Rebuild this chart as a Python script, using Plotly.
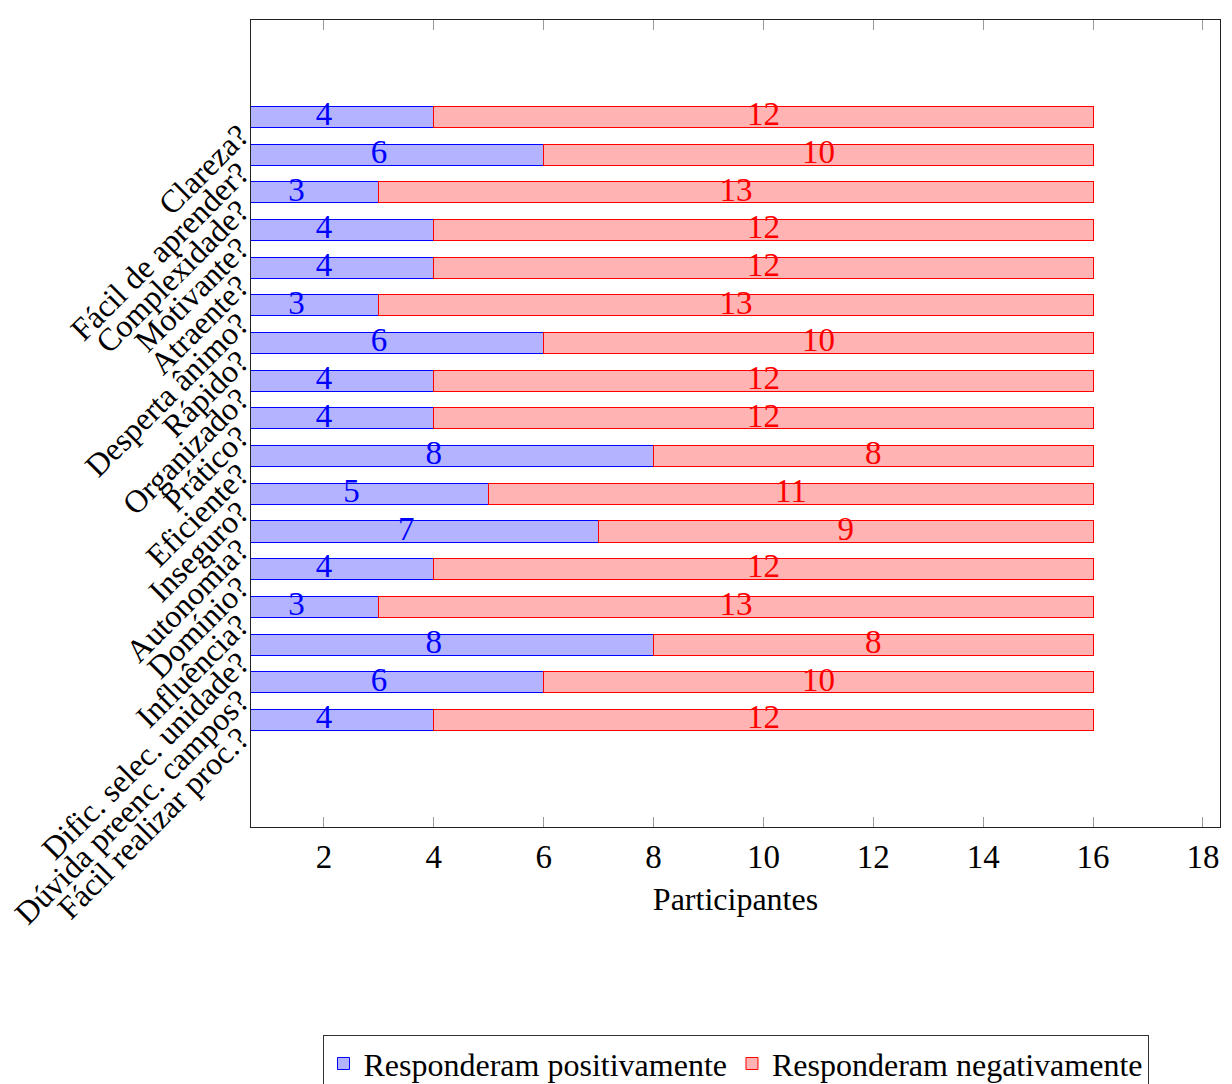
import plotly.graph_objects as go

labels = ["Clareza?", "Fácil de aprender?", "Complexidade?", "Motivante?", "Atraente?",
          "Desperta ânimo?", "Rápido?", "Organizado?", "Prático?", "Eficiente?",
          "Inseguro?", "Autonomia?", "Domínio?", "Influência?", "Dific. selec. unidade?",
          "Dúvida preenc. campos?", "Fácil realizar proc.?"]
positivos = [4, 6, 3, 4, 4, 3, 6, 4, 4, 8, 5, 7, 4, 3, 8, 6, 4]
negativos = [12, 10, 13, 12, 12, 13, 10, 12, 12, 8, 11, 9, 12, 13, 8, 10, 12]
x_ticks = [2, 4, 6, 8, 10, 12, 14, 16, 18]

FONT = "Liberation Serif, Times New Roman, serif"
BLUE, BLUE_FILL = "#0000ff", "#b3b3ff"
RED, RED_FILL = "#ff0000", "#ffb3b3"
TICK = "#9a9a9a"

n = len(labels)
pos = [n - 1 - i for i in range(n)]          # first category at the top
label_pos = [p - 0.38 for p in pos]           # rotated labels sit a bit below their tick
yrange = [-2.84, 18.57]

fig = go.Figure()
fig.add_trace(go.Bar(
    y=pos, x=positivos, orientation="h", name="Responderam positivamente",
    marker=dict(color=BLUE_FILL, line=dict(color=BLUE, width=1)), width=0.56,
    hovertext=labels, hoverinfo="x+text"))
fig.add_trace(go.Bar(
    y=pos, x=negativos, orientation="h", name="Responderam negativamente",
    marker=dict(color=RED_FILL, line=dict(color=RED, width=1)), width=0.56,
    hovertext=labels, hoverinfo="x+text"))

# value labels centred in each segment
fig.add_trace(go.Scatter(
    y=pos, x=[p / 2 for p in positivos], mode="text",
    text=[str(p) for p in positivos], textposition="middle center",
    textfont=dict(family=FONT, size=33, color=BLUE), showlegend=False, hoverinfo="skip"))
fig.add_trace(go.Scatter(
    y=pos, x=[p + v / 2 for p, v in zip(positivos, negativos)], mode="text",
    text=[str(v) for v in negativos], textposition="middle center",
    textfont=dict(family=FONT, size=33, color=RED), showlegend=False, hoverinfo="skip"))

fig.update_layout(
    barmode="stack",
    width=1224, height=1100,
    margin=dict(l=243, r=12, t=12, b=281),
    paper_bgcolor="white", plot_bgcolor="white",
    font=dict(family=FONT, size=33, color="black"),
    legend=dict(orientation="h", x=0.5, xanchor="center", y=-0.258, yanchor="top",
                bordercolor="#333333", borderwidth=1, font=dict(family=FONT, size=32),
                itemwidth=30, tracegroupgap=0, traceorder="normal"),
    yaxis2=dict(overlaying="y", side="right", anchor="x", range=yrange, tickvals=pos,
                ticks="inside", ticklen=10, tickcolor=TICK, showticklabels=False,
                showgrid=False, zeroline=False, showline=False),
)
fig.update_xaxes(
    range=[0.672, 18.31], tickvals=x_ticks, ticks="inside", ticklen=10, tickcolor=TICK,
    showline=True, linecolor="#222222", linewidth=1, mirror="ticks", showgrid=False,
    zeroline=False, automargin=False,
    title=dict(text="Participantes", standoff=14, font=dict(family=FONT, size=32)),
    tickfont=dict(family=FONT, size=33), ticklabelstandoff=0)
fig.update_yaxes(
    selector=dict(overlaying=None),
    range=yrange, tickvals=label_pos, ticktext=labels, ticks="",
    showline=True, linecolor="#222222", linewidth=1, mirror=True, showgrid=False,
    zeroline=False, automargin=False, tickangle=-45, tickfont=dict(family=FONT, size=32),
    ticklabelstandoff=4)
fig.layout.yaxis2.update(range=yrange)

fig.write_html("out.html")
